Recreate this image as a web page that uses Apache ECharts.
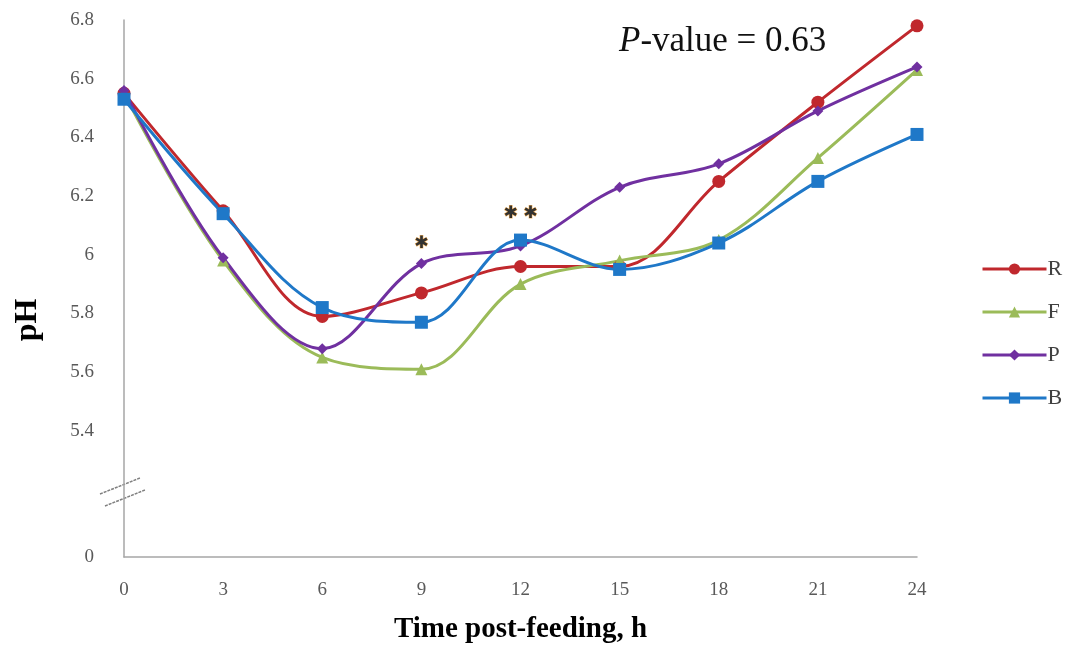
<!DOCTYPE html>
<html>
<head>
<meta charset="utf-8">
<script src="https://cdn.jsdelivr.net/npm/echarts@6/dist/echarts.min.js"></script>
<style>
  html, body { margin: 0; padding: 0; background: #fff; }
  #main { width: 1069px; height: 649px; }
</style>
</head>
<body>
<div id="main"></div>
<script>
// hours post-feeding
var hours = [0, 3, 6, 9, 12, 15, 18, 21, 24]
var seriesR = [6.55, 6.15, 5.79, 5.87, 5.96, 5.96, 6.25, 6.52, 6.78]
var seriesF = [6.55, 5.98, 5.65, 5.61, 5.90, 5.98, 6.05, 6.33, 6.63]
var seriesP = [6.56, 5.99, 5.68, 5.97, 6.03, 6.23, 6.31, 6.49, 6.64]
var seriesB = [6.53, 6.14, 5.82, 5.77, 6.05, 5.95, 6.04, 6.25, 6.41]

// y axis is broken: bottom of the axis stands for 0
var yBreakValue = 4.97
var yTickValues = [4.97, 5.4, 5.6, 5.8, 6.0, 6.2, 6.4, 6.6, 6.8]
var yTickLabels = ['0', '5.4', '5.6', '5.8', '6', '6.2', '6.4', '6.6', '6.8']

// significance marks
var starPoints = [[9, 6.05, '✱'], [12, 6.15, '✱ ✱']]

var chartDom = document.getElementById('main')
var myChart = echarts.init(chartDom)
var serif = '"Liberation Serif", "DejaVu Serif", serif'
var axisGrey = '#a6a6a6'

function toPairs(vals) {
  return hours.map(function (h, i) { return [h, vals[i]] })
}

function lineSeries(name, vals, color, symbol, size) {
  return {
    name: name,
    type: 'line',
    smooth: 0.35,
    data: toPairs(vals),
    symbol: symbol,
    symbolSize: size,
    showSymbol: true,
    lineStyle: { width: 3, color: color },
    itemStyle: { color: color },
    emphasis: { disabled: true }
  }
}

var option = {
  animation: false,
  backgroundColor: '#fff',
  title: {
    text: '{i|P}-value = 0.63',
    left: 614,
    top: 19,
    textStyle: {
      fontFamily: serif,
      fontSize: 35,
      fontWeight: 'normal',
      color: '#111',
      rich: {
        i: { fontFamily: serif, fontSize: 35, fontStyle: 'italic', color: '#111' }
      }
    }
  },
  legend: {
    orient: 'vertical',
    left: 976,
    top: 253,
    itemGap: 21,
    itemWidth: 64,
    itemHeight: 14,
    lineStyle: { width: 3 },
    textStyle: { fontFamily: serif, fontSize: 22, color: '#404040', padding: [0, 0, 0, -4] },
    data: ['R', 'F', 'P', 'B']
  },
  grid: { left: 124, right: 152, top: 20, bottom: 89 },
  xAxis: {
    type: 'value',
    min: 0,
    max: 24,
    interval: 3,
    name: 'Time post-feeding, h',
    nameLocation: 'middle',
    nameGap: 58,
    nameTextStyle: { fontFamily: serif, fontSize: 29, fontWeight: 'bold', color: '#000' },
    axisLine: { lineStyle: { color: axisGrey, width: 1.5 } },
    axisTick: { show: false },
    splitLine: { show: false },
    axisLabel: { fontFamily: serif, fontSize: 19, color: '#595959', margin: 24 }
  },
  yAxis: {
    type: 'value',
    min: yBreakValue,
    max: 6.8,
    axisLine: { show: true, lineStyle: { color: axisGrey, width: 1.5 } },
    axisTick: { show: false },
    splitLine: { show: false },
    axisLabel: {
      customValues: yTickValues,
      fontFamily: serif,
      fontSize: 19,
      color: '#595959',
      margin: 30,
      formatter: function (v) {
        var idx = yTickValues.findIndex(function (t) { return Math.abs(t - v) < 1e-6 })
        return idx >= 0 ? yTickLabels[idx] : ''
      }
    }
  },
  graphic: [
    {
      type: 'text',
      x: 28,
      y: 320,
      rotation: Math.PI / 2,
      style: {
        text: 'pH',
        fontFamily: serif,
        fontSize: 32,
        fontWeight: 'bold',
        fill: '#000',
        textAlign: 'center',
        textVerticalAlign: 'middle'
      }
    },
    { type: 'line', shape: { x1: 100, y1: 494, x2: 140, y2: 478 }, style: { stroke: '#808080', lineWidth: 1.5, lineDash: [3, 1] } },
    { type: 'line', shape: { x1: 105, y1: 506, x2: 145, y2: 490 }, style: { stroke: '#808080', lineWidth: 1.5, lineDash: [3, 1] } }
  ],
  series: [
    lineSeries('R', seriesR, '#c0282d', 'circle', 13),
    lineSeries('F', seriesF, '#9bbb59', 'triangle', 12),
    lineSeries('P', seriesP, '#7030a0', 'diamond', 11),
    lineSeries('B', seriesB, '#1f78c8', 'rect', 13),
    {
      name: 'stars',
      type: 'scatter',
      symbolSize: 0,
      silent: true,
      data: starPoints,
      label: {
        show: true,
        position: 'inside',
        offset: [0, 3],
        formatter: function (p) { return p.data[2] },
        fontFamily: '"DejaVu Sans", sans-serif',
        fontSize: 17,
        color: '#000',
        textBorderColor: '#f0a848',
        textBorderWidth: 1
      }
    }
  ]
}

option && myChart.setOption(option)
</script>
</body>
</html>
